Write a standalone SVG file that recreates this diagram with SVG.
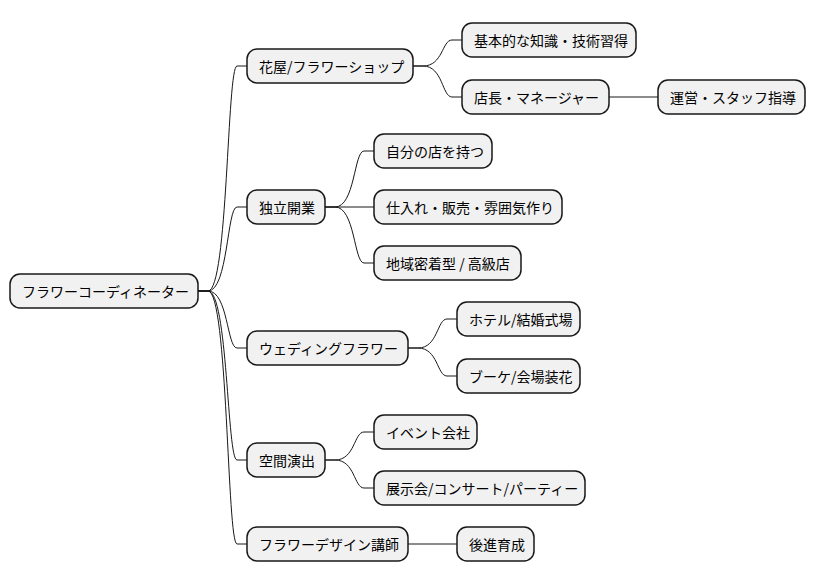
<svg xmlns="http://www.w3.org/2000/svg" width="815" height="583" viewBox="0 0 815 583">
<style>
.n rect{fill:#f1f1f1;stroke:#181818;stroke-width:1.5}
.n text{font-family:"Noto Sans CJK JP","Liberation Sans",sans-serif;font-size:14px;fill:#000;dominant-baseline:central}
#edges path{fill:none;stroke:#181818;stroke-width:1}
</style>
<rect width="815" height="583" fill="#fff"/>
<g id="edges">
<path d="M198,291 H208 C228,291 227,66 237,66 H247"/>
<path d="M198,291 H208 C228,291 227,207 237,207 H247"/>
<path d="M198,291 H208 C228,291 227,348 237,348 H247"/>
<path d="M198,291 H208 C228,291 227,460 237,460 H247"/>
<path d="M198,291 H208 C228,291 227,544 237,544 H247"/>
<path d="M413,66 H423 C443,66 442,40 452,40 H462"/>
<path d="M413,66 H423 C443,66 442,97 452,97 H462"/>
<path d="M609,97 H658"/>
<path d="M325,207 H335 C355,207 354,151 364,151 H374"/>
<path d="M325,207 H374"/>
<path d="M325,207 H335 C355,207 354,263 364,263 H374"/>
<path d="M408,348 H418 C438,348 437,319 447,319 H457"/>
<path d="M408,348 H418 C438,348 437,376 447,376 H457"/>
<path d="M325,460 H335 C355,460 354,432 364,432 H374"/>
<path d="M325,460 H335 C355,460 354,488 364,488 H374"/>
<path d="M408,544 H457"/>
</g>
<g id="root" class="n"><rect x="10" y="274" width="188" height="34" rx="10"/><text x="22" y="291">フラワーコーディネーター</text></g>
<g id="n1" class="n"><rect x="247" y="49" width="166" height="34" rx="10"/><text x="259" y="66">花屋/フラワーショップ</text></g>
<g id="n1a" class="n"><rect x="462" y="23" width="174" height="34" rx="10"/><text x="474" y="40">基本的な知識・技術習得</text></g>
<g id="n1b" class="n"><rect x="462" y="80" width="147" height="34" rx="10"/><text x="474" y="97">店長・マネージャー</text></g>
<g id="n1b1" class="n"><rect x="658" y="80" width="147" height="34" rx="10"/><text x="670" y="97">運営・スタッフ指導</text></g>
<g id="n2" class="n"><rect x="247" y="190" width="78" height="34" rx="10"/><text x="259" y="207">独立開業</text></g>
<g id="n2a" class="n"><rect x="374" y="134" width="118" height="34" rx="10"/><text x="386" y="151">自分の店を持つ</text></g>
<g id="n2b" class="n"><rect x="374" y="190" width="188" height="34" rx="10"/><text x="386" y="207">仕入れ・販売・雰囲気作り</text></g>
<g id="n2c" class="n"><rect x="374" y="246" width="147" height="34" rx="10"/><text x="386" y="263">地域密着型 / 高級店</text></g>
<g id="n3" class="n"><rect x="247" y="331" width="161" height="34" rx="10"/><text x="259" y="348">ウェディングフラワー</text></g>
<g id="n3a" class="n"><rect x="457" y="302" width="123" height="34" rx="10"/><text x="469" y="319">ホテル/結婚式場</text></g>
<g id="n3b" class="n"><rect x="457" y="359" width="123" height="34" rx="10"/><text x="469" y="376">ブーケ/会場装花</text></g>
<g id="n4" class="n"><rect x="247" y="443" width="78" height="34" rx="10"/><text x="259" y="460">空間演出</text></g>
<g id="n4a" class="n"><rect x="374" y="415" width="103" height="34" rx="10"/><text x="386" y="432">イベント会社</text></g>
<g id="n4b" class="n"><rect x="374" y="471" width="211" height="34" rx="10"/><text x="386" y="488">展示会/コンサート/パーティー</text></g>
<g id="n5" class="n"><rect x="247" y="527" width="161" height="34" rx="10"/><text x="259" y="544">フラワーデザイン講師</text></g>
<g id="n5a" class="n"><rect x="457" y="527" width="77" height="34" rx="10"/><text x="469" y="544">後進育成</text></g>
</svg>
